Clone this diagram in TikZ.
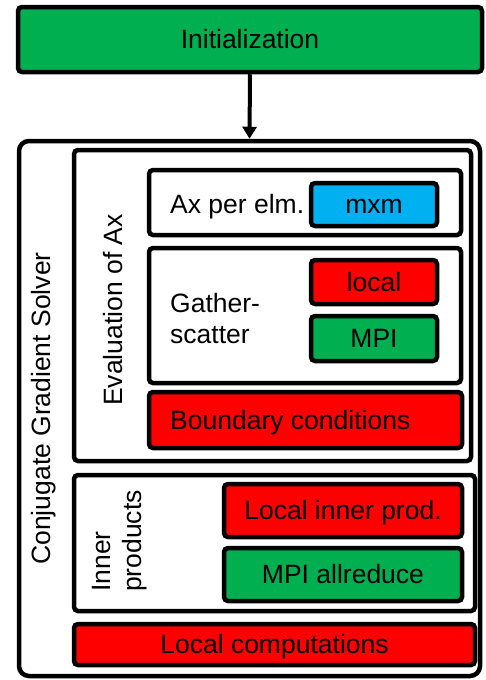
\documentclass[tikz,border=0pt]{standalone}
\usepackage{fontspec}
\setmainfont{Liberation Sans}
\usetikzlibrary{arrows.meta}
\definecolor{cgreen}{HTML}{00B050}
\definecolor{cred}{HTML}{FF0000}
\definecolor{cblue}{HTML}{00B0F0}
\tikzset{
  box/.style={draw=black, line width=4.5pt, rounded corners=4pt, inner sep=0pt, text height=22pt, text depth=4pt, font=\fontsize{26.5}{31}\selectfont},
  lbl/.style={inner sep=0pt, font=\fontsize{26.5}{31}\selectfont, align=left},
}
\newcommand{\bx}[7]{% name, x1, y1, x2, y2, fill, text
  \node[box, fill=#6, minimum width={#4-#2}, minimum height={#5-#3}] (#1) at ({(#2+#4)/2},{(#3+#5)/2}) {#7};}
\begin{document}
\begin{tikzpicture}[x=1pt,y=-1pt]
\useasboundingbox (0,0) rectangle (485,680);
\bx{init}{18}{7}{482}{72}{cgreen}{Initialization}
\node[box, rounded corners=10pt, fill=white, minimum width=461, minimum height=535] (cg) at (249.5,408.5) {};
\bx{eval}{74}{150}{471}{461}{white}{}
\bx{axelm}{149}{170}{461}{235}{white}{}
\bx{mxm}{311}{183}{437}{226}{cblue}{mxm}
\bx{gs}{149}{248}{461}{383}{white}{}
\bx{local}{311}{260}{437}{304}{cred}{local}
\bx{mpi}{311}{316}{437}{361}{cgreen}{MPI}
\bx{bc}{149}{392}{462}{448}{cred}{}
\bx{inner}{74}{475}{475}{611}{white}{}
\bx{lip}{224}{484}{462}{537}{cred}{Local inner prod.}
\bx{mpiall}{224}{548}{462}{601}{cgreen}{MPI allreduce}
\bx{lc}{74}{624}{475}{665}{cred}{Local computations}
\node[lbl, anchor=west, text height=22pt, text depth=4pt] (bct) at (170,420) {Boundary conditions};
\node[lbl, rotate=90] (cgt) at (44,408.5) {Conjugate Gradient Solver};
\node[lbl, rotate=90] (evt) at (113,310) {Evaluation of Ax};
\node[lbl, rotate=90, anchor=west] (ipt) at (120,592) {Inner\\products};
\node[lbl, anchor=west, text height=22pt, text depth=4pt] (axt) at (170,204) {Ax per elm.};
\node[lbl, anchor=west] (gst) at (170,319) {Gather-\\scatter};
\draw[line width=4pt, -{Triangle[width=14pt,length=12pt]}] (init.south) -- (cg.north);
\end{tikzpicture}
\end{document}
